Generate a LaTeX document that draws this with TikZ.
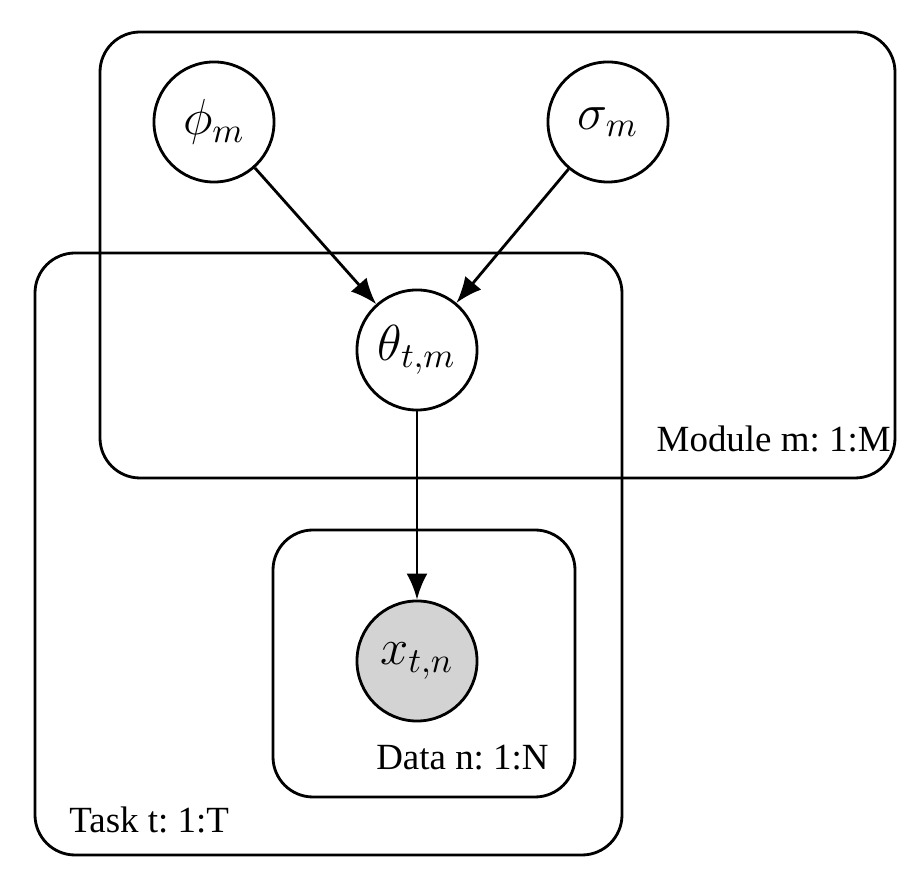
\documentclass[tikz,border=0pt]{standalone}
\usepackage{amsmath,amssymb}
\usepackage{fontspec}
\setmainfont{Liberation Serif}
\usepackage{tikz}
\usetikzlibrary{positioning,arrows.meta}
\usepackage{xcolor}
\definecolor{obsgray}{HTML}{D3D3D3}
\frenchspacing

\begin{document}
\begin{tikzpicture}[
      x=0.01cm, y=-0.01cm,
      line width=0.8pt,
      latent/.style={circle, draw, fill=white, minimum size=1.2cm, inner sep=0pt, font=\Large},
      observed/.style={latent, fill=obsgray},
      plate/.style={draw, rounded corners=0.4cm},
      platelabel/.style={font=\fontsize{10.5}{12}\selectfont, inner sep=0pt},
      edge/.style={-{Latex[length=2.6mm,width=2.1mm]}}
    ]
      \useasboundingbox (0,0) rectangle (924,880);
      % plates
      \draw[plate] (100,32) rectangle (895,478);
      \draw[plate] (35,253) rectangle (622,855);
      \draw[plate] (273,530) rectangle (575,797);
      \node[platelabel, anchor=base east] (lmod) at (892,452) {Module m: 1:M};
      \node[platelabel, anchor=base west] (ltask) at (68,833) {Task t: 1:T};
      \node[platelabel, anchor=base east] (ldata) at (550,770) {Data n: 1:N};
      % variables
      \node[latent] (phi) at (214,122) {$\phi_m$};
      \node[latent] (sigma) at (608,122) {$\sigma_m$};
      \node[latent] (theta) at (417,350) {$\theta_{t,m}$};
      \node[observed] (x) at (417,661) {$x_{t,n}$};
      \draw[edge] (phi) -- (theta);
      \draw[edge] (sigma) -- (theta);
      \draw[edge] (theta) -- (x);
    \end{tikzpicture}
\end{document}
